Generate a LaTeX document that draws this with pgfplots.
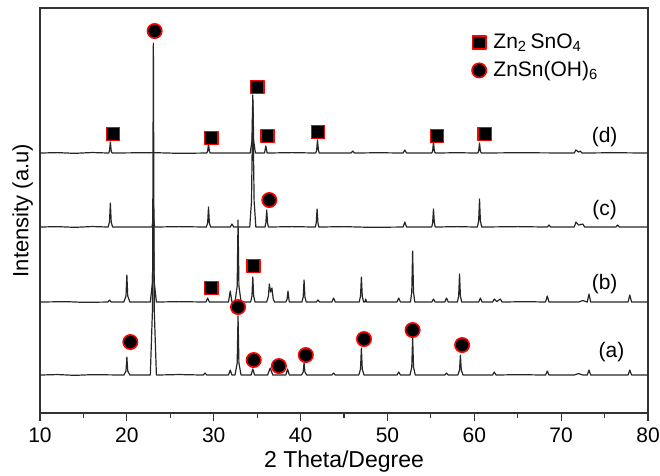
\documentclass[border=0pt]{standalone}
\usepackage{pgfplots}
\usepackage{pgfplotstable}
\pgfplotsset{compat=1.18}
\usepackage{fontspec}
\setmainfont{Liberation Sans}

% peak heights above each trace's own baseline
\pgfplotstableread{
x h
10 0
12 0.5
14 -0.3
16 0.4
19.65 0
19.9 4
20.0 18
20.1 4
20.35 0
22.7 0
22.95 66
23.05 332
23.15 66
23.4 0
26 0.5
28.8 0
29.0 2
29.2 0
31.7 0
31.9 5
32.1 0
32.45 0
32.7 12
32.8 59
32.9 12
33.15 0
34.3 0
34.5 6
34.7 0
36.2 0
36.5 7
36.8 0
38.3 0
38.5 6
38.7 0
40.1 0
40.3 3
40.4 12
40.5 3
40.7 0
43.6 0
43.8 2
44.0 0
46.7 0
46.9 6
47.0 27
47.1 6
47.3 0
51.1 0
51.3 3
51.5 0
52.6 0
52.8 8
52.9 38
53.0 8
53.2 0
56.6 0
56.8 2
57.0 0
58.1 0
58.3 5
58.4 20
58.5 5
58.7 0
62.1 0
62.3 3
62.5 0
65 0.4
68.2 0
68.4 4
68.6 0
71.5 0
72.0 1.5
72.5 0
73.0 0
73.2 5
73.4 0
77.7 0
77.9 5
78.1 0
80 0
}\traceA

\pgfplotstableread{
x h
10 0
13 0.4
15 -0.3
17.8 0
18.0 2
18.2 0
19.65 0
19.9 6
20.0 27
20.1 6
20.35 0
22.7 0
22.95 20
23.05 100
23.15 20
23.4 0
26 0.4
29.1 0
29.3 4
29.5 0
31.7 0
31.9 11
32.1 0
32.45 0
32.7 16
32.8 82
32.9 16
33.15 0
34.25 0
34.4 6
34.5 25
34.6 6
34.75 0
36.1 0
36.3 6
36.4 18
36.55 10
36.7 14
36.85 3
37.0 0
38.3 0
38.45 3
38.55 11
38.7 0
40.15 0
40.3 5
40.4 22
40.5 5
40.65 0
41.8 0
42.0 2
42.2 0
43.6 0
43.8 4
44.0 0
46.75 0
46.9 6
47.0 25
47.1 6
47.25 0
47.4 0
47.5 3
47.6 0
51.1 0
51.3 4
51.5 0
52.65 0
52.8 10
52.9 51
53.0 10
53.15 0
55.1 0
55.3 3
55.5 0
56.6 0
56.8 4
57.0 0
58.05 0
58.2 6
58.3 28
58.4 6
58.55 0
60.5 0
60.7 4
60.9 0
62.1 0
62.3 3
62.6 0.5
63.0 3
63.2 0
66 0.4
68.2 0
68.4 6
68.6 0
72.0 0
72.5 1.5
73.0 0
73.2 8
73.4 0
77.7 0
77.9 7
78.1 0
80 0
}\traceB

\pgfplotstableread{
x h
10 0
12 0.4
14 -0.3
16 0.5
17.85 0
18.0 5
18.1 24
18.2 5
18.35 0
22.9 0
23.05 10
23.2 0
26 0.4
29.15 0
29.3 4
29.4 20
29.5 4
29.65 0
31.9 0
32.1 3
32.3 0
34.15 0
34.35 26
34.5 127
34.65 26
34.85 0
35.9 0
36.0 4
36.1 17
36.2 4
36.3 0
39 0.4
41.7 0
41.8 4
41.9 18
42.0 4
42.1 0
45 0.4
48 -0.3
51.8 0
52.0 5
52.2 0
55.1 0
55.2 4
55.3 18
55.4 4
55.5 0
58 0.4
60.35 0
60.5 6
60.6 28
60.7 6
60.85 0
65 0.4
68.4 0
68.6 2
68.8 0
71.5 0
71.7 5
72.0 2
72.5 3
72.7 0
76.3 0
76.5 2
76.7 0
80 0
}\traceC

\pgfplotstableread{
x h
10 0
12 0.4
14 -0.3
16 0.5
17.9 0
18.0 2
18.1 11
18.2 2
18.3 0
23 0.4
26 -0.3
29.2 0
29.3 2
29.4 9
29.5 2
29.6 0
34.2 0
34.4 12
34.5 58
34.6 12
34.8 0
35.85 0
36.0 7
36.15 0
39 0.4
41.75 0
41.85 3
41.95 13
42.05 3
42.15 0
45.8 0
46.0 2
46.2 0
49 0.3
51.8 0
52.0 3
52.2 0
55.1 0
55.2 2
55.3 11
55.4 2
55.5 0
58 0.3
60.4 0
60.5 2
60.6 10
60.7 2
60.8 0
65 0.3
71.5 0
71.7 3
72.0 1
72.2 2
72.4 0
76 0.3
80 0
}\traceD

\pgfplotstableread{
x y
18.4 279
29.7 275
35.0 326
36.2 277
42.0 281
55.7 277
61.2 279
29.7 125
34.6 147
}\squares

\pgfplotstableread{
x y
23.2 382
36.4 213
20.4 71
32.8 106
34.6 53
37.5 47
40.6 58
47.3 74
52.9 83
58.6 68
}\circles

\begin{document}
\begin{tikzpicture}
\begin{axis}[
  scale only axis,
  width=304pt, height=202.5pt,
  xmin=10, xmax=80, ymin=0, ymax=405,
  xtick={10,20,...,80},
  minor x tick num=1,
  ytick=\empty,
  axis line style={line width=0.6pt, black!80},
  tick style={line width=0.6pt, black!80},
  xtick pos=bottom,
  tick align=outside,
  major tick length=4pt, minor tick length=2.5pt,
  font=\fontsize{10.5}{12}\selectfont,
  /pgf/number format/assume math mode=true,
  xlabel={2 Theta/Degree},
  ylabel={Intensity (a.u)},
  xlabel style={font=\fontsize{11.5}{13}\selectfont, yshift=3pt},
  ylabel style={font=\fontsize{11}{13}\selectfont, yshift=-4pt},
  clip=false,
  legend style={at={(0.70,0.955)}, anchor=north west, draw=none, fill=none,
    font=\fontsize{10.5}{12}\selectfont, row sep=2pt,
    nodes={inner sep=1.5pt}},
  legend cell align=left,
  legend image code/.code={\draw[#1] (0.25cm,0cm) -- plot coordinates {(0.25cm,0cm)};},
  every axis plot/.append style={line join=round},
]
\addplot[only marks, mark=square*, mark size=3.3pt,
  mark options={fill=black, draw=red, line width=0.8pt}] table {\squares};
\addlegendentry{\hspace{2pt}Zn\textsubscript{2}\,SnO\textsubscript{4}}
\addplot[only marks, mark=*, mark size=3.6pt,
  mark options={fill=black, draw=red, line width=0.8pt}] table {\circles};
\addlegendentry{\hspace{2pt}ZnSn(OH)\textsubscript{6}}

\addplot[black!85, line width=0.6pt] table[y expr=\thisrow{h}+38] {\traceA};
\addplot[black!85, line width=0.6pt] table[y expr=\thisrow{h}+111] {\traceB};
\addplot[black!85, line width=0.6pt] table[y expr=\thisrow{h}+186] {\traceC};
\addplot[black!85, line width=0.6pt] table[y expr=\thisrow{h}+260] {\traceD};

\node[font=\fontsize{10.5}{12}\selectfont] at (axis cs:75.0,276) {(d)};
\node[font=\fontsize{10.5}{12}\selectfont] at (axis cs:75.0,203) {(c)};
\node[font=\fontsize{10.5}{12}\selectfont] at (axis cs:75.0,129) {(b)};
\node[font=\fontsize{10.5}{12}\selectfont] at (axis cs:75.8,61) {(a)};

\coordinate (bbSW) at (rel axis cs:-0.0658,-0.1531);
\coordinate (bbNE) at (rel axis cs:1.0197,1.0198);
\end{axis}
\pgfresetboundingbox
\useasboundingbox (bbSW) rectangle (bbNE);
\end{tikzpicture}
\end{document}
